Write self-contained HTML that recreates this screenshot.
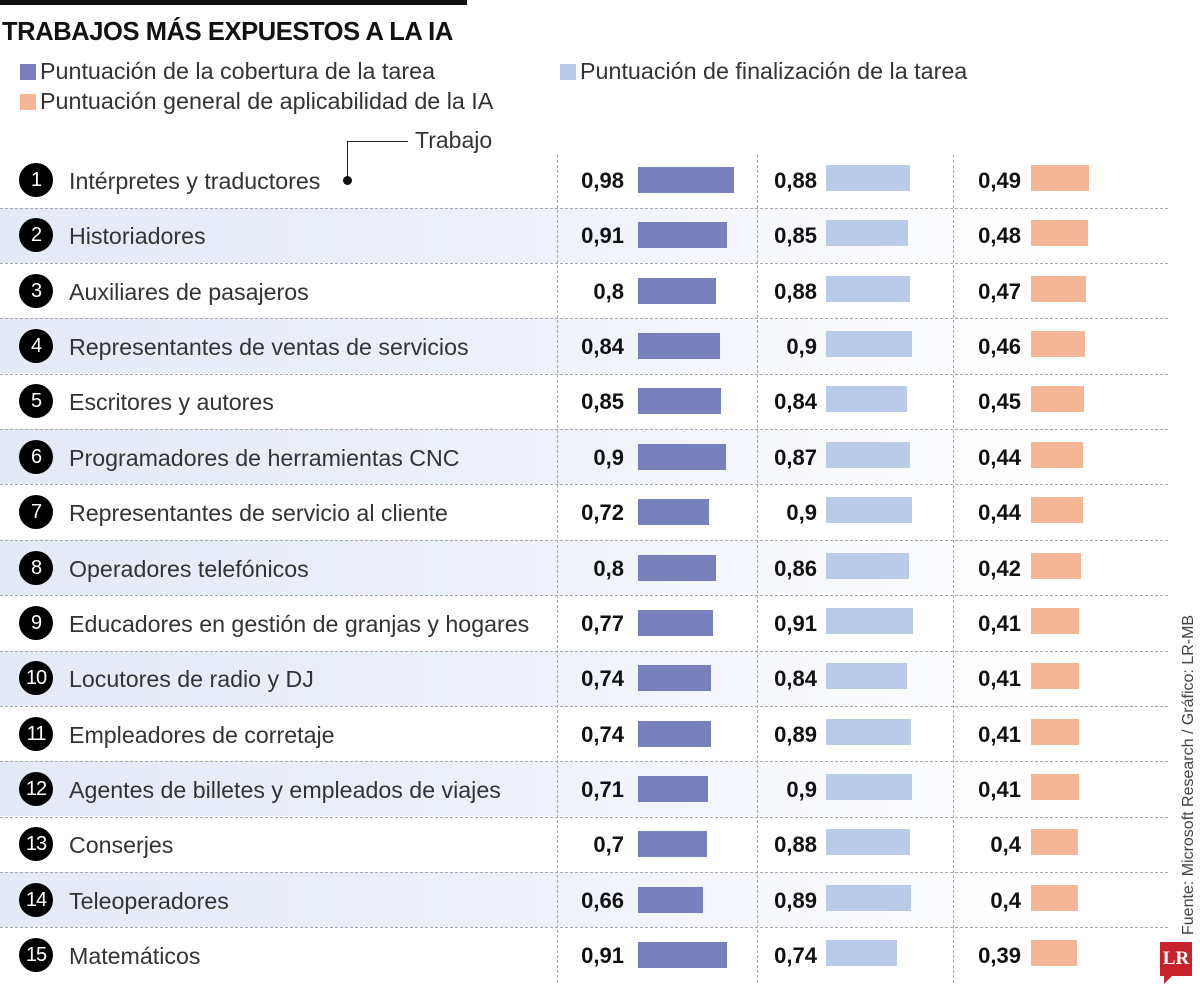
<!DOCTYPE html>
<html><head><meta charset="utf-8"><style>
body{margin:0;width:1200px;height:990px;background:#fff;position:relative;overflow:hidden;font-family:"Liberation Sans",sans-serif;color:#222}
.a{position:absolute}
.row{position:absolute;left:0;width:1168px;height:55px}
.sh{background:linear-gradient(90deg,#e4e9f6 0%,#eef1fa 45%,#f8f9fd 70%,#fff 90%)}
.sep{position:absolute;left:0;width:1168px;border-top:1px dashed #aaa}
.c{position:absolute;left:19px;width:34px;height:34px;border-radius:50%;background:#000;color:#fff;font-size:20px;text-align:center;line-height:34px;letter-spacing:-1px}
.n{position:absolute;left:69px;font-size:23.2px;color:#333;line-height:26px}
.v{position:absolute;width:70px;text-align:right;font-weight:bold;font-size:22px;line-height:26px;color:#111}
.b{position:absolute;height:26px}
.vl{position:absolute;top:155px;height:828px;border-left:1px dashed #aaa}
</style></head><body>
<div class="a" style="left:0;top:0;width:467px;height:5px;background:#111"></div>
<div class="a" style="left:2px;top:18px;font-size:25.5px;font-weight:bold;letter-spacing:-0.4px;color:#111">TRABAJOS MÁS EXPUESTOS A LA IA</div>
<div class="a" style="left:20px;top:64px;width:16px;height:16px;background:#7880bc"></div>
<div class="a" style="left:40px;top:58px;font-size:23.3px;color:#333">Puntuación de la cobertura de la tarea</div>
<div class="a" style="left:560px;top:64px;width:16px;height:16px;background:#b9cbe8"></div>
<div class="a" style="left:580px;top:58px;font-size:23.3px;color:#333">Puntuación de finalización de la tarea</div>
<div class="a" style="left:20px;top:94px;width:16px;height:16px;background:#f5b597"></div>
<div class="a" style="left:40px;top:88px;font-size:23.3px;color:#333">Puntuación general de aplicabilidad de la IA</div>
<div class="a" style="left:415px;top:127px;font-size:23px;color:#333">Trabajo</div>
<div class="a" style="left:347px;top:141px;width:60px;height:38px;border-left:1px solid #222;border-top:1px solid #222"></div>
<div class="a" style="left:343px;top:176px;width:9px;height:9px;border-radius:50%;background:#111"></div>
<div id="rows"></div>
<div class="vl" style="left:557px"></div>
<div class="vl" style="left:757px"></div>
<div class="vl" style="left:953px"></div>
<div class="a" style="left:1180px;top:935px;transform:rotate(-90deg);transform-origin:0 0;font-size:16px;color:#444;white-space:nowrap">Fuente: Microsoft Research / Gráfico: LR-MB</div>
<div class="a" style="left:1160px;top:942px;width:32px;height:34px;background:#c8232c;color:#fff;font-family:'Liberation Serif',serif;font-weight:bold;font-size:19px;text-align:center;line-height:34px">LR</div>
<div class="a" style="left:1164px;top:976px;width:0;height:0;border-left:8px solid #c8232c;border-bottom:8px solid transparent"></div>
<script>
var d=[["Intérpretes y traductores",.98,.88,.49],["Historiadores",.91,.85,.48],["Auxiliares de pasajeros",.8,.88,.47],["Representantes de ventas de servicios",.84,.9,.46],["Escritores y autores",.85,.84,.45],["Programadores de herramientas CNC",.9,.87,.44],["Representantes de servicio al cliente",.72,.9,.44],["Operadores telefónicos",.8,.86,.42],["Educadores en gestión de granjas y hogares",.77,.91,.41],["Locutores de radio y DJ",.74,.84,.41],["Empleadores de corretaje",.74,.89,.41],["Agentes de billetes y empleados de viajes",.71,.9,.41],["Conserjes",.7,.88,.4],["Teleoperadores",.66,.89,.4],["Matemáticos",.91,.74,.39]];
var h="";function f(x){return String(x).replace(".",",")}
d.forEach(function(r,i){var y=180+i*55.36;var t=y-27.7;
if(i%2==1)h+='<div class="row sh" style="top:'+t+'px"></div>';
if(i>0)h+='<div class="sep" style="top:'+t+'px"></div>';
h+='<div class="c" style="top:'+(y-17)+'px">'+(i+1)+'</div>';
h+='<div class="n" style="top:'+(y-12)+'px">'+r[0]+'</div>';
h+='<div class="v" style="left:554px;top:'+(y-12)+'px">'+f(r[1])+'</div>';
h+='<div class="b" style="left:638px;top:'+(y-13)+'px;width:'+(r[1]*98)+'px;background:#7880bc"></div>';
h+='<div class="v" style="left:747px;top:'+(y-12)+'px">'+f(r[2])+'</div>';
h+='<div class="b" style="left:826px;top:'+(y-15)+'px;width:'+(r[2]*96)+'px;background:#b9cbe8"></div>';
h+='<div class="v" style="left:951px;top:'+(y-12)+'px">'+f(r[3])+'</div>';
h+='<div class="b" style="left:1031px;top:'+(y-15)+'px;width:'+(r[3]*118)+'px;background:#f5b597"></div>';
});
document.getElementById("rows").innerHTML=h;
</script>
</body></html>
